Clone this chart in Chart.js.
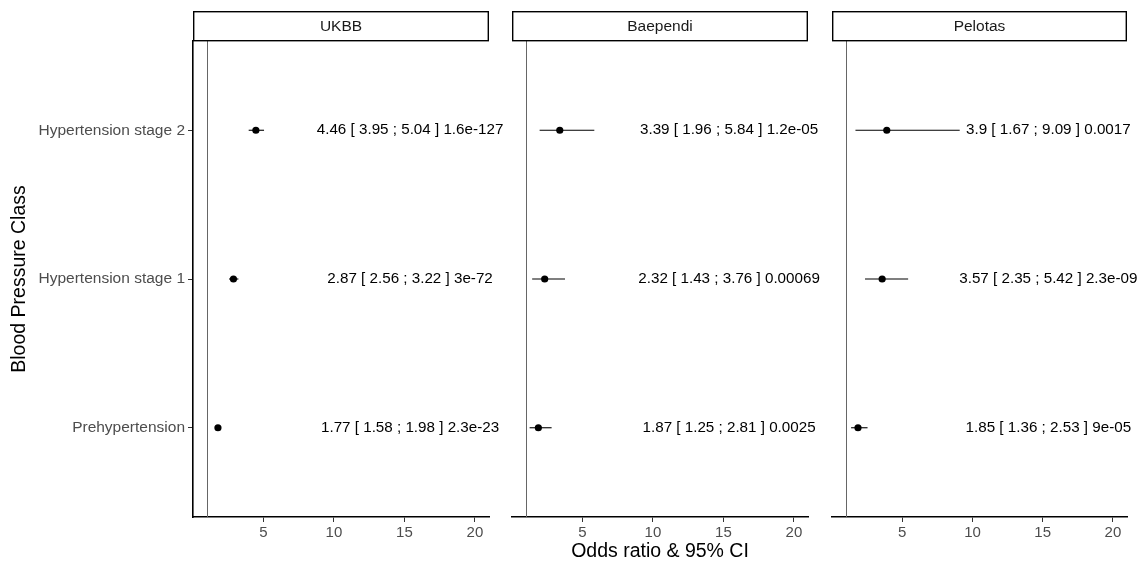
<!DOCTYPE html>
<html>
<head>
<meta charset="utf-8">
<title>Blood pressure class odds ratios</title>
<script src="https://cdn.jsdelivr.net/npm/chart.js@4.4.1/dist/chart.umd.min.js"></script>
<style>
  html, body { margin: 0; padding: 0; background: #fff; }
  #wrap { position: relative; width: 1140px; height: 563px; overflow: hidden; }
  canvas { position: absolute; top: 0; }
</style>
</head>
<body>
<div id="wrap">
  <canvas id="panel-ukbb" width="530" height="563" style="left:0px"></canvas>
  <canvas id="panel-baependi" width="340" height="563" style="left:500px"></canvas>
  <canvas id="panel-pelotas" width="320" height="563" style="left:820px"></canvas>
</div>
<script>
// rows from bottom to top
const categories = ['Prehypertension', 'Hypertension stage 1', 'Hypertension stage 2'];
const xTicks = [5, 10, 15, 20];

const ukbbOR = [1.77, 2.87, 4.46];
const ukbbLower = [1.58, 2.56, 3.95];
const ukbbUpper = [1.98, 3.22, 5.04];
const ukbbP = ['2.3e-23', '3e-72', '1.6e-127'];

const baependiOR = [1.87, 2.32, 3.39];
const baependiLower = [1.25, 1.43, 1.96];
const baependiUpper = [2.81, 3.76, 5.84];
const baependiP = ['0.0025', '0.00069', '1.2e-05'];

const pelotasOR = [1.85, 3.57, 3.9];
const pelotasLower = [1.36, 2.35, 1.67];
const pelotasUpper = [2.53, 5.42, 9.09];
const pelotasP = ['9e-05', '2.3e-09', '0.0017'];

// where the text column sits on the odds ratio axis
const LABEL_X = 15.4;

Chart.defaults.font.family = "'Liberation Sans', Arial, sans-serif";

const makePanel = (id, name, or, lower, upper, pvals, opts) => {
    let rows = or.map((v, i) => ({ x: v, y: i + 1, lo: lower[i], hi: upper[i], p: pvals[i] }));

    // facet strip with box
    const strip = {
        id: 'strip',
        afterDraw(chart) {
            const { ctx, chartArea } = chart;
            ctx.save();
            ctx.strokeStyle = '#000';
            ctx.lineWidth = 1.4;
            ctx.strokeRect(chartArea.left + 0.7, 11.7, chartArea.right - chartArea.left - 1.4, 29);
            ctx.fillStyle = '#1a1a1a';
            ctx.font = "15.5px 'Liberation Sans', Arial, sans-serif";
            ctx.textAlign = 'center';
            ctx.textBaseline = 'middle';
            ctx.fillText(name, (chartArea.left + chartArea.right) / 2, 27);
            ctx.restore();
        }
    };

    // reference line at OR = 1 and the CI whiskers
    const whiskers = {
        id: 'whiskers',
        beforeDatasetsDraw(chart) {
            const { ctx, chartArea, scales } = chart;
            ctx.save();
            ctx.strokeStyle = '#666';
            ctx.lineWidth = 1;
            let x1 = Math.round(scales.x.getPixelForValue(1)) + 0.5;
            ctx.beginPath();
            ctx.moveTo(x1, chartArea.top);
            ctx.lineTo(x1, chartArea.bottom);
            ctx.stroke();

            ctx.strokeStyle = '#000';
            ctx.lineWidth = 1.1;
            rows.forEach(r => {
                let y = scales.y.getPixelForValue(r.y);
                ctx.beginPath();
                ctx.moveTo(scales.x.getPixelForValue(r.lo), y);
                ctx.lineTo(scales.x.getPixelForValue(r.hi), y);
                ctx.stroke();
            });
            ctx.restore();
        }
    };

    // "OR [ lower ; upper ] p" next to each row, allowed to run past the panel
    const labels = {
        id: 'labels',
        afterDatasetsDraw(chart) {
            const { ctx, scales } = chart;
            ctx.save();
            ctx.fillStyle = '#000';
            ctx.font = "15.2px 'Liberation Sans', Arial, sans-serif";
            ctx.textAlign = 'center';
            ctx.textBaseline = 'middle';
            rows.forEach(r => {
                let text = `${r.x} [ ${r.lo} ; ${r.hi} ] ${r.p}`;
                ctx.fillText(text, scales.x.getPixelForValue(LABEL_X), scales.y.getPixelForValue(r.y));
            });
            ctx.restore();
        }
    };

    return new Chart(document.getElementById(id), {
        type: 'scatter',
        data: {
            datasets: [{
                data: rows,
                pointRadius: 3.6,
                pointHoverRadius: 3.6,
                backgroundColor: '#000',
                borderWidth: 0
            }]
        },
        options: {
            responsive: false,
            animation: false,
            devicePixelRatio: 1,
            events: [],
            layout: { padding: { left: opts.padLeft, right: opts.padRight, top: 41, bottom: 0 } },
            plugins: { legend: { display: false }, tooltip: { enabled: false } },
            scales: {
                x: {
                    type: 'linear',
                    min: 0,
                    max: 21,
                    afterBuildTicks: s => { s.ticks = xTicks.map(v => ({ value: v })); },
                    afterFit: s => { s.height = 46; },
                    ticks: { color: '#4d4d4d', font: { size: 15 }, padding: 2 },
                    grid: { display: true, drawOnChartArea: false, tickLength: 5, color: '#333' },
                    border: { display: true, color: '#000', width: 1.6 },
                    title: {
                        display: opts.xTitle,
                        text: 'Odds ratio & 95% CI',
                        color: '#000',
                        font: { size: 19.5 },
                        padding: { top: 0, bottom: 0 }
                    }
                },
                y: {
                    type: 'linear',
                    min: 0.4,
                    max: 3.6,
                    display: opts.showY,
                    afterBuildTicks: s => { s.ticks = categories.map((c, i) => ({ value: i + 1 })); },
                    afterFit: s => { s.width = opts.showY ? 193 : 0; },
                    ticks: { callback: v => categories[v - 1], color: '#4d4d4d', font: { size: 15.5 }, padding: 3 },
                    grid: { display: true, drawOnChartArea: false, tickLength: 5, color: '#333' },
                    border: { display: true, color: '#000', width: 1.6 },
                    title: {
                        display: true,
                        text: 'Blood Pressure Class',
                        color: '#000',
                        font: { size: 19.5 },
                        padding: { top: 8, bottom: 0 }
                    }
                }
            }
        },
        plugins: [strip, whiskers, labels]
    });
};

makePanel('panel-ukbb', 'UKBB', ukbbOR, ukbbLower, ukbbUpper, ukbbP,
    { padLeft: 0, padRight: 41, showY: true, xTitle: false });
makePanel('panel-baependi', 'Baependi', baependiOR, baependiLower, baependiUpper, baependiP,
    { padLeft: 12, padRight: 32, showY: false, xTitle: true });
makePanel('panel-pelotas', 'Pelotas', pelotasOR, pelotasLower, pelotasUpper, pelotasP,
    { padLeft: 12, padRight: 13, showY: false, xTitle: false });
</script>
</body>
</html>
